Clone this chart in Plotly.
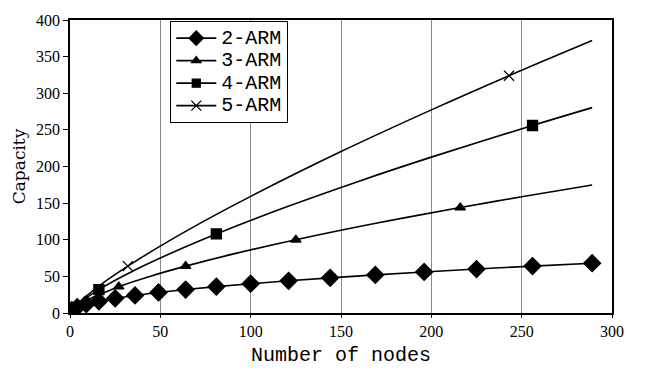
import plotly.graph_objects as go

# ---- data ----
arm2_x = [1, 4, 9, 16, 25, 36, 49, 64, 81, 100, 121, 144, 169, 196, 225, 256, 289]
arm2_y = [4, 8, 12, 16, 20, 24, 28, 32, 36, 40, 44, 48, 52, 56, 60, 64, 68]
arm2_mx = arm2_x
arm2_my = arm2_y

arm3_x = [1, 4, 8, 16, 27, 45, 64, 90, 125, 170, 216, 250, 289]
arm3_y = [4, 10, 16, 25, 36, 50.6, 64, 80.4, 100, 122.8, 144, 158.7, 174.8]
arm3_mx = [8, 27, 64, 125, 216]
arm3_my = [16, 36, 64, 100, 144]

arm4_x = [1, 4, 16, 36, 64, 81, 120, 160, 200, 256, 289]
arm4_y = [4, 11.3, 32, 58.8, 90.5, 108, 145, 180, 212.8, 256, 280.4]
arm4_mx = [1, 16, 81, 256]
arm4_my = [4, 32, 108, 256]

arm5_x = [1, 4, 16, 32, 64, 100, 150, 200, 243, 289]
arm5_y = [4, 12.1, 36.8, 64, 111.4, 159.2, 220.4, 277.3, 324, 372]
arm5_mx = [1, 32, 243]
arm5_my = [4, 64, 324]

names = ["2-ARM", "3-ARM", "4-ARM", "5-ARM"]
symbols = ["diamond", "triangle-up", "square", "x-thin"]
msizes = [13, 9, 10, 10]
legend_msizes = [11, 8, 8, 10]

series = [
    (arm2_x, arm2_y, arm2_mx, arm2_my),
    (arm3_x, arm3_y, arm3_mx, arm3_my),
    (arm4_x, arm4_y, arm4_mx, arm4_my),
    (arm5_x, arm5_y, arm5_mx, arm5_my),
]

fig = go.Figure()
for (lx, ly, mx, my), name, sym, ms, lms in zip(series, names, symbols, msizes, legend_msizes):
    fig.add_trace(go.Scatter(x=lx, y=ly, mode="lines", line=dict(color="black", width=1.6, shape="spline"),
                             showlegend=False, hoverinfo="skip"))
    fig.add_trace(go.Scatter(x=mx, y=my, mode="markers", name=name,
                             marker=dict(symbol=sym, size=ms, color="black",
                                         line=dict(color="black", width=1.3)),
                             showlegend=False))
    fig.add_trace(go.Scatter(x=[None], y=[None], mode="lines+markers",
                             name='<span style="font-size:20px">' + name + '</span>',
                             line=dict(color="black", width=1.6),
                             marker=dict(symbol=sym, size=lms, color="black",
                                         line=dict(color="black", width=1.3))))

fig.update_layout(
    width=646, height=374,
    margin=dict(l=70, r=34, t=14, b=60),
    paper_bgcolor="white", plot_bgcolor="white",
    font=dict(family="Liberation Serif", size=15, color="black"),
    xaxis=dict(range=[0, 300], tickvals=[0, 50, 100, 150, 200, 250, 300],
               showgrid=True, gridcolor="#8a8a8a", gridwidth=1,
               showline=True, linecolor="black", linewidth=1.5, mirror=True,
               ticks="outside", ticklen=3, tickcolor="black", zeroline=False,
               tickfont=dict(family="Liberation Serif", size=16),
               title=dict(text="Number of nodes", font=dict(family="Liberation Mono", size=20), standoff=8)),
    yaxis=dict(range=[0, 400], tickvals=[0, 50, 100, 150, 200, 250, 300, 350, 400],
               showgrid=False, showline=True, linecolor="black", linewidth=1.5, mirror=True,
               ticks="outside", ticklen=5, tickcolor="black", zeroline=False,
               tickfont=dict(family="Liberation Serif", size=16),
               title=dict(text="Capacity", font=dict(family="DejaVu Serif", size=17), standoff=6)),
    legend=dict(x=0.185, y=0.997, xanchor="left", yanchor="top", itemwidth=40,
                bgcolor="white", bordercolor="black", borderwidth=1,
                font=dict(family="Liberation Mono", size=15)),
)

fig.write_html("out.html")
